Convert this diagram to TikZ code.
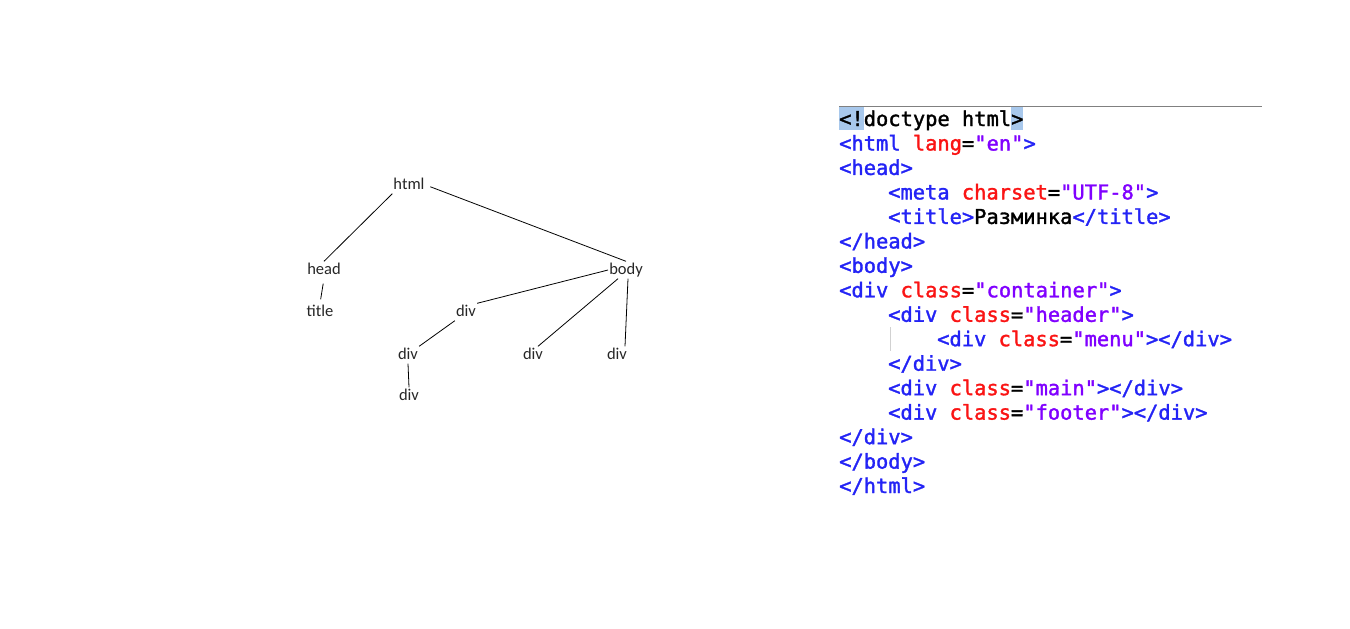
\documentclass[tikz,border=0pt]{standalone}
\usepackage{fontspec}
\usepackage{xcolor}
\usetikzlibrary{positioning}
\newfontfamily\treefont{Carlito}
\newfontfamily\codefont{DejaVu Sans Mono}[FakeBold=1.6]
\definecolor{tagblue}{RGB}{35,35,245}
\definecolor{attrred}{RGB}{250,20,20}
\definecolor{strpurple}{RGB}{128,0,255}
\definecolor{hilite}{RGB}{168,200,236}
\newcommand{\tg}[1]{\textcolor{tagblue}{#1}}
\newcommand{\atr}[1]{\textcolor{attrred}{#1}}
\newcommand{\strv}[1]{\textcolor{strpurple}{#1}}
\newcommand{\hl}[1]{{\setlength{\fboxsep}{0pt}\colorbox{hilite}{\rule[-4pt]{0pt}{23pt}#1}}}

\begin{document}
\begin{tikzpicture}[
    x=1pt, y=-1pt,
    elem/.style={inner sep=1pt, text height=12pt, text depth=3pt, font=\treefont\fontsize{16.5}{18}\selectfont, text=black!85},
    edge/.style={line width=0.8pt},
    code/.style={anchor=base west, inner sep=0pt, font=\codefont\fontsize{20.4}{24}\selectfont}
]
    \useasboundingbox (0,0) rectangle (1350,629);

    % tree
    \node[elem] (html) at (409,185) {html};
    \node[elem] (head) at (324,270) {head};
    \node[elem] (body) at (626,270) {body};
    \node[elem] (title) at (320,312) {title};
    \node[elem] (div1) at (466,312) {div};
    \node[elem] (div2) at (408,355) {div};
    \node[elem] (div3) at (533,355) {div};
    \node[elem] (div4) at (617,355) {div};
    \node[elem] (div5) at (409,396) {div};

    \draw[edge] (html.south west) -- (head.north);
    \draw[edge, shorten <=5pt] (html.east) -- (body.north);
    \draw[edge, shorten <=5pt, shorten >=4pt] (head.south) -- (title.north);
    \draw[edge] (body.west) -- (div1.north east);
    \draw[edge] ([xshift=-8pt]body.south) -- ([xshift=5pt]div3.north);
    \draw[edge] ([xshift=2pt]body.south) -- ([xshift=8pt]div4.north);
    \draw[edge] (div1.south west) -- (div2.north east);
    \draw[edge] (div2.south) -- (div5.north);

    % source
    \draw[gray, line width=0.8pt] (839,106) -- (1262,106);
    \draw[black!18, line width=0.8pt] (890,327) -- (890,351);

    \node[code] (doctype) at (839,126.0) {\hl{<!}doctype html\hl{>}};
    \node[code] (htmlopen) at (839,150.5) {\tg{<html} \atr{lang}=\strv{"en"}\tg{>}};
    \node[code] (headopen) at (839,174.9) {\tg{<head>}};
    \node[code] (meta) at (888,199.4) {\tg{<meta} \atr{charset}=\strv{"UTF-8"}\tg{>}};
    \node[code] (titletag) at (888,223.9) {\tg{<title>}Разминка\tg{</title>}};
    \node[code] (headclose) at (839,248.4) {\tg{</head>}};
    \node[code] (bodyopen) at (839,272.8) {\tg{<body>}};
    \node[code] (container) at (839,297.3) {\tg{<div} \atr{class}=\strv{"container"}\tg{>}};
    \node[code] (header) at (888,321.8) {\tg{<div} \atr{class}=\strv{"header"}\tg{>}};
    \node[code] (menu) at (937,346.2) {\tg{<div} \atr{class}=\strv{"menu"}\tg{></div>}};
    \node[code] (headerclose) at (888,370.7) {\tg{</div>}};
    \node[code] (main) at (888,395.2) {\tg{<div} \atr{class}=\strv{"main"}\tg{></div>}};
    \node[code] (footer) at (888,419.6) {\tg{<div} \atr{class}=\strv{"footer"}\tg{></div>}};
    \node[code] (containerclose) at (839,444.1) {\tg{</div>}};
    \node[code] (bodyclose) at (839,468.6) {\tg{</body>}};
    \node[code] (htmlclose) at (839,493.0) {\tg{</html>}};
\end{tikzpicture}
\end{document}
